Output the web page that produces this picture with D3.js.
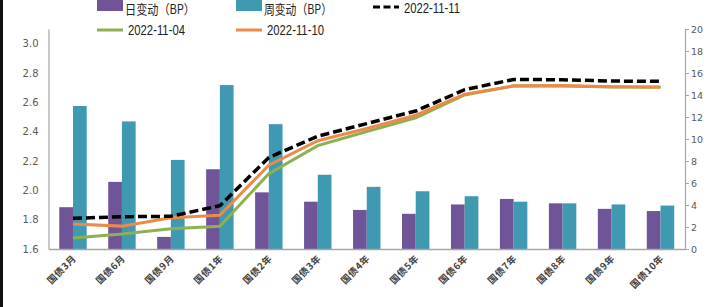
<!DOCTYPE html>
<html><head><meta charset="utf-8">
<script src="https://cdn.jsdelivr.net/npm/d3@7"></script>
<style>body{margin:0;background:#fff}svg{display:block}</style>
</head><body>
<svg id="c" width="712" height="307"></svg>
<script>
const categories = ["国债3月","国债6月","国债9月","国债1年","国债2年","国债3年","国债4年","国债5年","国债6年","国债7年","国债8年","国债9年","国债10年"];
const dailyBP  = [3.8, 6.1, 1.1, 7.25, 5.15, 4.3, 3.55, 3.2, 4.05, 4.55, 4.15, 3.65, 3.45];
const weeklyBP = [13.0, 11.6, 8.1, 14.9, 11.35, 6.75, 5.65, 5.25, 4.8, 4.3, 4.15, 4.05, 3.95];
const y20221111 = [1.809, 1.820, 1.823, 1.895, 2.224, 2.369, 2.455, 2.541, 2.686, 2.756, 2.754, 2.745, 2.743];
const y20221104 = [1.675, 1.702, 1.738, 1.755, 2.114, 2.305, 2.401, 2.495, 2.650, 2.713, 2.712, 2.704, 2.703];
const y20221110 = [1.770, 1.756, 1.813, 1.830, 2.172, 2.338, 2.422, 2.512, 2.656, 2.711, 2.714, 2.706, 2.705];
const leftTicks = [1.6, 1.8, 2.0, 2.2, 2.4, 2.6, 2.8, 3.0];
const rightTicks = [0, 2, 4, 6, 8, 10, 12, 14, 16, 18, 20];
const legendItems = [
  {name:"日变动（BP）", type:"bar", color:"#6f5497"},
  {name:"周变动（BP）", type:"bar", color:"#3f99b1"},
  {name:"2022-11-11", type:"dash", color:"#000"},
  {name:"2022-11-04", type:"line", color:"#8db150"},
  {name:"2022-11-10", type:"line", color:"#ec8a4a"}
];

const svg = d3.select("#c");
const L = 48.5, R = 685, T = 29, B = 249;
const x = d3.scaleBand().domain(categories).range([L, R]).padding(0);
const yL = d3.scaleLinear().domain([1.6, 3.1]).range([B, T]);
const yR = d3.scaleLinear().domain([0, 20]).range([B, T]);
const bw = x.bandwidth() * 0.28;
const cx = c => x(c) + x.bandwidth() / 2;

// left frame border
svg.append("rect").attr("x",0).attr("y",0).attr("width",3).attr("height",307).attr("fill","#111");

// bars
svg.append("g").selectAll("rect").data(categories).join("rect")
  .attr("x", c => cx(c) - bw).attr("width", bw)
  .attr("y", (c,i) => yR(dailyBP[i])).attr("height", (c,i) => B - yR(dailyBP[i]))
  .attr("fill", "#6f5497");
svg.append("g").selectAll("rect").data(categories).join("rect")
  .attr("x", c => cx(c)).attr("width", bw)
  .attr("y", (c,i) => yR(weeklyBP[i])).attr("height", (c,i) => B - yR(weeklyBP[i]))
  .attr("fill", "#3f99b1");

// axes
const axL = svg.append("g").attr("transform", `translate(${L},0)`)
  .call(d3.axisLeft(yL).tickValues(leftTicks).tickFormat(d3.format(".1f")).tickSize(0).tickPadding(10));
axL.select(".domain").attr("stroke","#a6a6a6").attr("stroke-width",1.2);
axL.selectAll("text").attr("font-family","DejaVu Sans").attr("font-size",10).attr("fill","#595959");

const axR = svg.append("g").attr("transform", `translate(${R},0)`)
  .call(d3.axisRight(yR).tickValues(rightTicks).tickSize(4).tickPadding(2).tickSizeOuter(4));
axR.select(".domain").attr("stroke","#a6a6a6").attr("stroke-width",1.2);
axR.selectAll(".tick line").attr("stroke","#a6a6a6");
axR.selectAll("text").attr("font-family","DejaVu Sans").attr("font-size",9.5).attr("fill","#595959");

const axB = svg.append("g").attr("transform", `translate(0,${B})`)
  .call(d3.axisBottom(x).tickSize(0).tickPadding(0));
axB.select(".domain").attr("stroke","#a6a6a6").attr("stroke-width",1.5);
axB.selectAll("text")
  .attr("font-family","Noto Sans CJK SC").attr("font-size",9.5).attr("font-weight","bold").attr("fill","#404040")
  .attr("text-anchor","end").attr("dy",0).attr("dx",0)
  .attr("letter-spacing",0.6)
  .attr("transform","translate(4,10) rotate(-45)");

// lines
const line = arr => d3.line().x((d,i) => cx(categories[i])).y(d => yL(d))(arr);
svg.append("path").attr("d", line(y20221104)).attr("fill","none").attr("stroke","#8db150").attr("stroke-width",3);
svg.append("path").attr("d", line(y20221110)).attr("fill","none").attr("stroke","#ec8a4a").attr("stroke-width",3);
svg.append("path").attr("d", line(y20221111)).attr("fill","none").attr("stroke","#000").attr("stroke-width",3.5).attr("stroke-dasharray","9,4");

// legend
const pos = [[97,0],[236,0],[373,0],[97,1],[236,1]];
const lengths = [70, 68, 56, 57, 57];
legendItems.forEach((it, k) => {
  const [lx, row] = pos[k];
  const cyy = row === 0 ? 7 : 30;
  const g = svg.append("g");
  if (it.type === "bar") {
    g.append("rect").attr("x",lx).attr("y",cyy-7).attr("width",26).attr("height",11).attr("fill",it.color);
  } else {
    g.append("line").attr("x1",lx).attr("x2",lx+26).attr("y1",cyy).attr("y2",cyy)
      .attr("stroke",it.color).attr("stroke-width",3)
      .attr("stroke-dasharray", it.type === "dash" ? "7,3.5" : null);
  }
  const isCJK = it.type === "bar";
  g.append("text").attr("x", lx + (isCJK?28:31)).attr("y", row === 0 ? (isCJK ? 14 : 13) : 35)
    .attr("font-family", isCJK ? "Noto Sans CJK SC" : "Liberation Sans")
    .attr("font-size", isCJK ? 13 : 14).attr("fill","#222")
    .attr("textLength", lengths[k]).attr("lengthAdjust","spacingAndGlyphs")
    .text(it.name);
});
</script>
</body></html>
